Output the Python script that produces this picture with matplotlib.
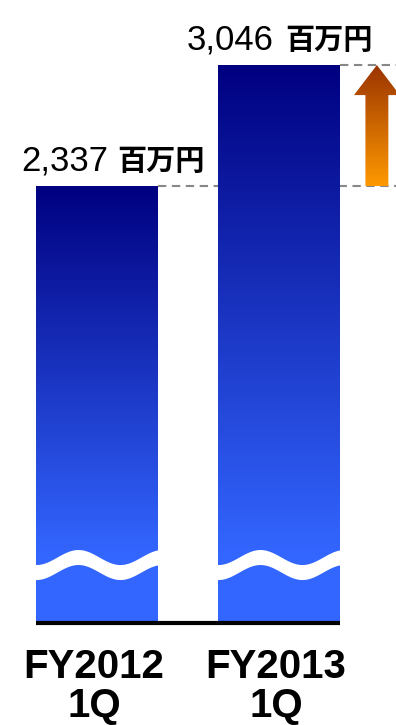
import numpy as np
import matplotlib
matplotlib.use("Agg")
import matplotlib.pyplot as plt
from matplotlib.colors import LinearSegmentedColormap
from matplotlib.patches import Rectangle, Polygon

plt.rcParams["lines.scale_dashes"] = False

# quarterly sales, millions of yen
periods = ["FY2012\n1Q", "FY2013\n1Q"]
sales = [2337, 3046]
unit = "百万円"

# layout (data units; the axis is broken near the bottom, see the wave)
Y_TOP, Y_BOTTOM = 3427, -820
BAR_FLOOR = -234
BASELINE = -222
BAR_WIDTH = 0.67
GRAD_END = 175          # gradient reaches its lightest blue here
WAVE_MID, WAVE_AMP, WAVE_THICK = 120, 44, 88
WAVE_PERIOD = 0.4615

NUM_FONT = ["Liberation Sans Narrow", "Liberation Sans", "DejaVu Sans"]
CJK_FONT = ["Noto Sans CJK JP", "DejaVu Sans"]
LBL_FONT = ["Liberation Sans", "DejaVu Sans"]

bar_cmap = LinearSegmentedColormap.from_list("bar", ["#3366FF", "#000080"])
arrow_cmap = LinearSegmentedColormap.from_list("arrow", ["#FF9900", "#993300"])

fig = plt.figure(figsize=(3.96, 7.25), dpi=100)
ax = fig.add_axes([0, 0, 1, 1])
ax.axis("off")

x = np.arange(len(sales))
grad = np.linspace(0, 1, 256).reshape(-1, 1)

for xi, val in zip(x, sales):
    left = xi - BAR_WIDTH / 2
    rect = Rectangle((left, BAR_FLOOR), BAR_WIDTH, val - BAR_FLOOR,
                     facecolor="#3366FF", edgecolor="none", zorder=2)
    ax.add_patch(rect)
    # vertical gradient, dark at the top of each bar
    img = ax.imshow(grad, cmap=bar_cmap, origin="lower", aspect="auto",
                    extent=(left, left + BAR_WIDTH, GRAD_END, val),
                    interpolation="bilinear", zorder=3)
    img.set_clip_path(rect)

    # axis-break wave across the bar
    wx = np.linspace(left - 0.01, left + BAR_WIDTH + 0.01, 200)
    mid = WAVE_MID - WAVE_AMP * np.cos(2 * np.pi * (wx - left) / WAVE_PERIOD)
    ax.fill_between(wx, mid - WAVE_THICK / 2, mid + WAVE_THICK / 2,
                    color="white", lw=0, zorder=4)

# baseline under the bars
ax.plot([x[0] - BAR_WIDTH / 2, x[-1] + BAR_WIDTH / 2], [BASELINE, BASELINE],
        color="black", lw=3, solid_capstyle="butt", zorder=5)

# dashed guides from each bar top to the right edge
for xi, val in zip(x, sales):
    ax.plot([xi + BAR_WIDTH / 2, 1.643], [val, val], color="#888888",
            lw=1.5, dashes=(6, 4), zorder=1)

# growth arrow between the two values
ax_x, shaft_hw, head_hw, head_len = 1.538, 0.063, 0.126, 176
lo, hi = sales[0], sales[1]
arrow = Polygon([
    (ax_x - shaft_hw, lo), (ax_x + shaft_hw, lo),
    (ax_x + shaft_hw, hi - head_len), (ax_x + head_hw, hi - head_len),
    (ax_x, hi), (ax_x - head_hw, hi - head_len),
    (ax_x - shaft_hw, hi - head_len),
], closed=True, facecolor="none", edgecolor="none", zorder=6)
ax.add_patch(arrow)
aimg = ax.imshow(grad, cmap=arrow_cmap, origin="lower", aspect="auto",
                 extent=(ax_x - head_hw, ax_x + head_hw, lo, hi),
                 interpolation="bilinear", zorder=6)
aimg.set_clip_path(arrow)
ax.set_xlim(-0.533, 1.643)
ax.set_ylim(Y_BOTTOM, Y_TOP)

# value labels: number + unit
num_dx = [-76, -92]
unit_dx = [20, 6]
for xi, val, ndx, udx in zip(x, sales, num_dx, unit_dx):
    ax.annotate(f"{val:,}", (xi, val), xytext=(ndx, 16),
                textcoords="offset pixels", ha="left", va="baseline",
                fontsize=25, family=NUM_FONT, color="black", zorder=7)
    ax.annotate(unit, (xi, val), xytext=(udx, 16),
                textcoords="offset pixels", ha="left", va="baseline",
                fontsize=21, fontweight="bold", family=CJK_FONT,
                color="black", zorder=7)

# category labels
for xi, lbl in zip(x, periods):
    ax.annotate(lbl, (xi, BASELINE), xytext=(-3, -25),
                textcoords="offset pixels", ha="center", va="top",
                fontsize=29, fontweight="bold", family=LBL_FONT,
                linespacing=1.05, color="black")

fig.savefig("out.png", dpi=100)
